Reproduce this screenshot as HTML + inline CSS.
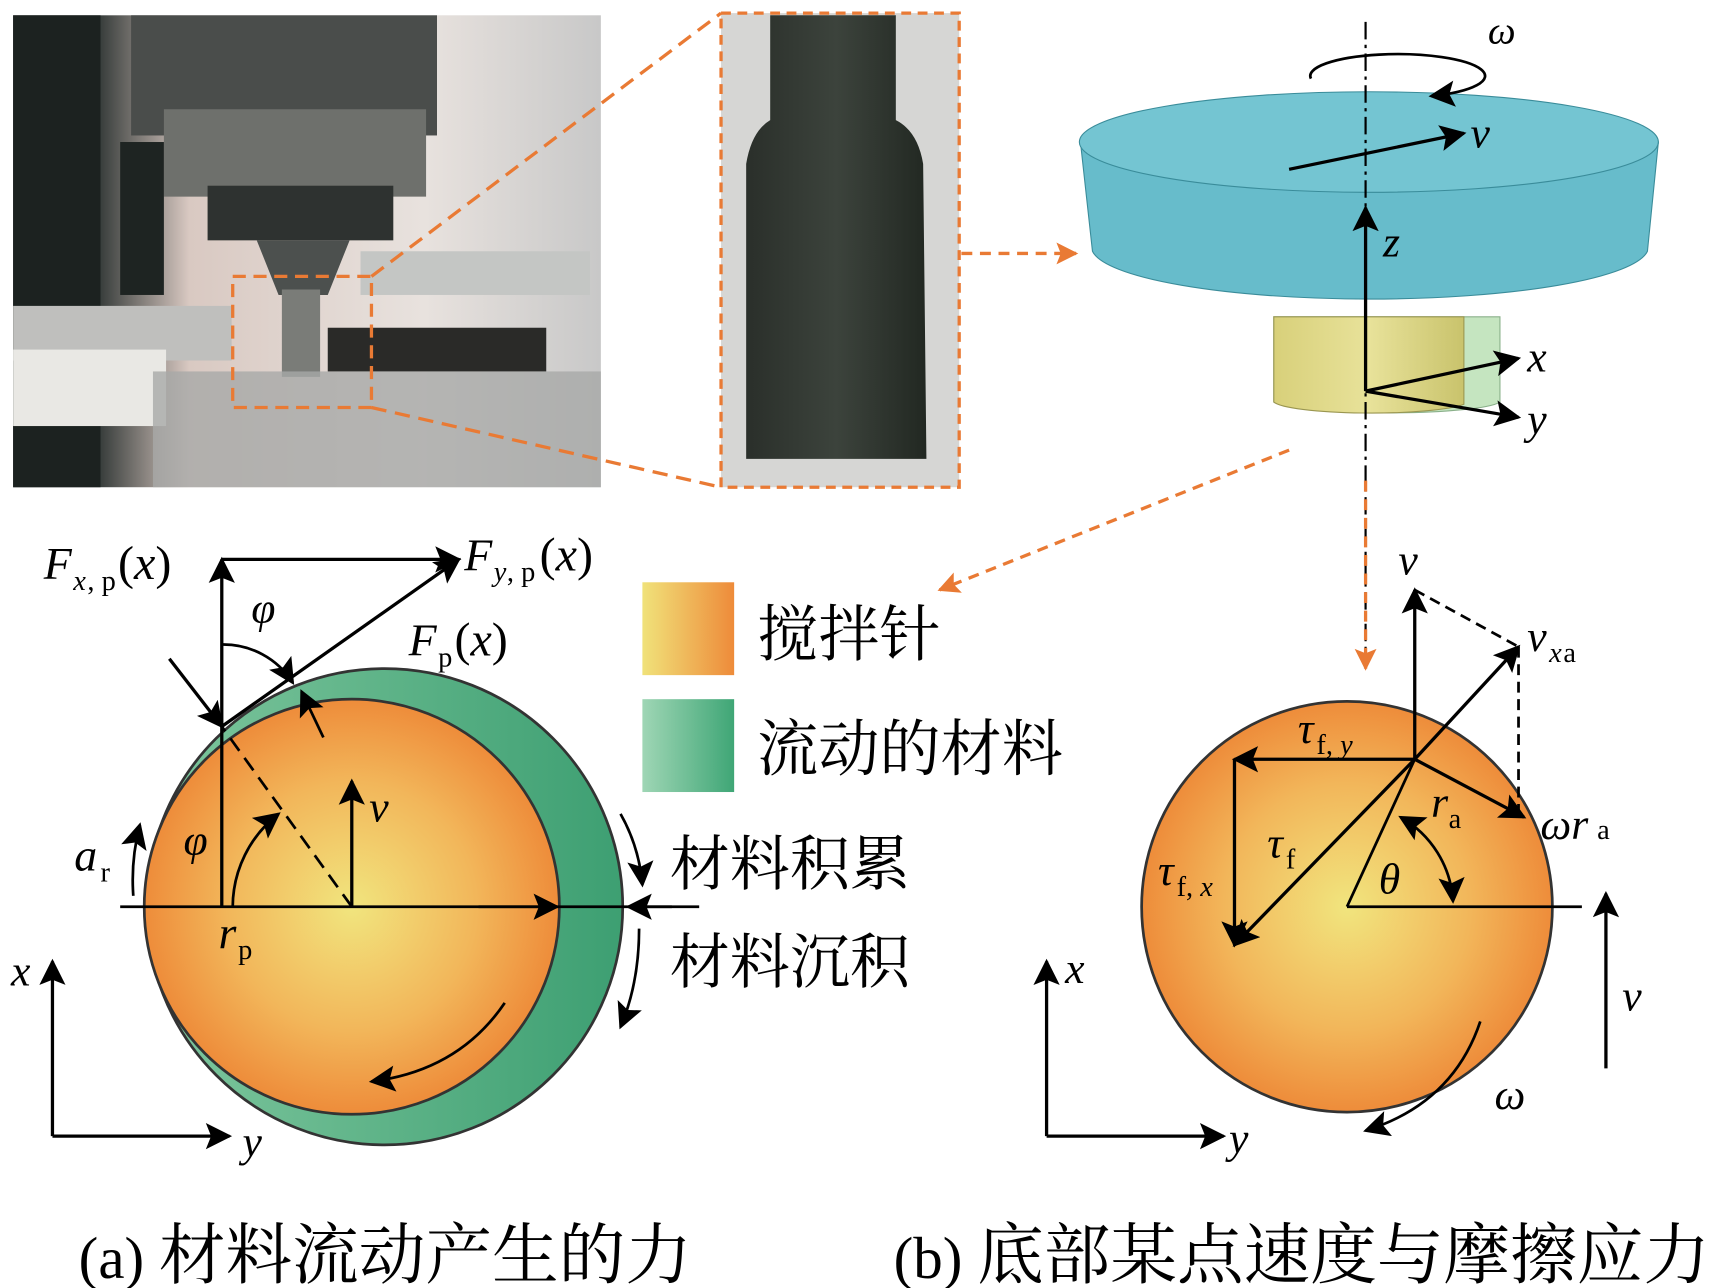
<!DOCTYPE html>
<html><head><meta charset="utf-8"><style>
html,body{margin:0;padding:0;background:#fff;}
svg{display:block;}
text{font-family:"Liberation Serif","Noto Serif CJK SC",serif;}
.it{font-style:italic;}
</style></head><body>
<svg width="1713" height="1288" viewBox="0 0 1568 1179" xmlns="http://www.w3.org/2000/svg">
<defs>
<radialGradient id="og" cx="0.5" cy="0.5" r="0.5">
<stop offset="0" stop-color="#f1e57e"/><stop offset="0.6" stop-color="#f2b65a"/><stop offset="1" stop-color="#ee8c3a"/>
</radialGradient>
<linearGradient id="lgO" x1="0" x2="1"><stop offset="0" stop-color="#f0e27a"/><stop offset="1" stop-color="#ee8b3a"/></linearGradient>
<linearGradient id="lgG" x1="0" x2="1"><stop offset="0" stop-color="#9fd6b5"/><stop offset="1" stop-color="#3fa676"/></linearGradient>
<linearGradient id="gc" x1="0" x2="1"><stop offset="0" stop-color="#7fc79e"/><stop offset="1" stop-color="#3d9f72"/></linearGradient>
<linearGradient id="pinY" x1="0" x2="1"><stop offset="0" stop-color="#d8d07a"/><stop offset="0.5" stop-color="#e8e29a"/><stop offset="1" stop-color="#c9c36c"/></linearGradient>
<linearGradient id="photo" x1="0" x2="1"><stop offset="0" stop-color="#1f2624"/><stop offset="0.15" stop-color="#3a3f3d"/><stop offset="0.3" stop-color="#d9c9c2"/><stop offset="0.7" stop-color="#e8e2de"/><stop offset="1" stop-color="#c8c8c8"/></linearGradient>
<linearGradient id="tool" x1="0" x2="1"><stop offset="0" stop-color="#2a2f2a"/><stop offset="0.5" stop-color="#3c433c"/><stop offset="1" stop-color="#222822"/></linearGradient>
<marker id="ab" viewBox="0 0 10 10" refX="9" refY="5" markerWidth="36" markerHeight="24" orient="auto-start-reverse" markerUnits="userSpaceOnUse"><path d="M0,0 L10,5 L0,10 L2,5z" fill="#000"/></marker>
<marker id="ao" viewBox="0 0 10 10" refX="9" refY="5" markerWidth="26" markerHeight="20" orient="auto" markerUnits="userSpaceOnUse"><path d="M0,0 L10,5 L0,10 L2,5z" fill="#e97a34"/></marker>
</defs>

<!-- photo -->
<rect x="12" y="14" width="538" height="432" fill="url(#photo)"/>
<rect x="12" y="14" width="80" height="432" fill="#1c2220"/>
<rect x="120" y="14" width="280" height="110" fill="#4a4d4b"/>
<rect x="150" y="100" width="240" height="80" fill="#6e706c"/>
<rect x="190" y="170" width="170" height="50" fill="#2e3230"/>
<polygon points="235,220 320,220 300,270 255,270" fill="#4c504e"/>
<rect x="258" y="265" width="35" height="80" fill="#7a7c78"/>
<rect x="110" y="130" width="40" height="140" fill="#1e2422"/>
<rect x="12" y="280" width="200" height="50" fill="#bfbfbd"/>
<rect x="12" y="320" width="140" height="70" fill="#e9e8e4"/>
<rect x="300" y="300" width="200" height="40" fill="#2a2a28"/>
<rect x="140" y="340" width="410" height="106" fill="#a8a9a8" opacity="0.8"/>
<rect x="330" y="230" width="210" height="40" fill="#c4c6c4"/>

<!-- inset -->
<rect x="660" y="12" width="218" height="434" fill="#d6d6d4"/>
<path d="M705,14 L820,14 L820,110 Q840,120 845,150 L848,420 L683,420 L683,150 Q688,120 705,110Z" fill="url(#tool)"/>
<rect x="660" y="12" width="218" height="434" fill="none" stroke="#e97a34" stroke-width="3" stroke-dasharray="9,6"/>
<rect x="213" y="253" width="127" height="120" fill="none" stroke="#e97a34" stroke-width="3" stroke-dasharray="12,7"/>
<line x1="340" y1="253" x2="660" y2="12" stroke="#e97a34" stroke-width="3" stroke-dasharray="14,8"/>
<line x1="340" y1="373" x2="660" y2="446" stroke="#e97a34" stroke-width="3" stroke-dasharray="14,8"/>
<line x1="880" y1="232" x2="985" y2="232" stroke="#e97a34" stroke-width="3" stroke-dasharray="10,7" marker-end="url(#ao)"/>

<!-- 3D tool -->
<path d="M1166,290 L1166,368 A105,12 0 0 0 1373,368 L1373,290Z" fill="#c5e5c0" stroke="#8ab08a"/>
<path d="M1166,290 L1166,368 A90,12 0 0 0 1340,370 L1340,290Z" fill="url(#pinY)" stroke="#9a9650"/>
<path d="M989,130 L1000,230 A255,48 0 0 0 1508,230 L1518,130Z" fill="#67bccb" stroke="#3a8c9a"/>
<ellipse cx="1253" cy="130" rx="265" ry="46" fill="#74c5d2" stroke="#3a8c9a"/>
<line x1="1250" y1="20" x2="1250" y2="610" stroke="#000" stroke-width="2" stroke-dasharray="16,5,3,5"/>
<path d="M1200,72 A80,20 0 1 1 1310,88" fill="none" stroke="#000" stroke-width="2.5" marker-end="url(#ab)"/>
<text x="1362" y="40" font-size="36" class="it">ω</text>
<line x1="1180" y1="155" x2="1340" y2="122" stroke="#000" stroke-width="3" marker-end="url(#ab)"/>
<text x="1346" y="135" font-size="40" class="it">v</text>
<line x1="1250" y1="358" x2="1250" y2="190" stroke="#000" stroke-width="3" marker-end="url(#ab)"/>
<text x="1266" y="235" font-size="40" class="it">z</text>
<line x1="1250" y1="358" x2="1390" y2="328" stroke="#000" stroke-width="3" marker-end="url(#ab)"/>
<text x="1398" y="340" font-size="40" class="it">x</text>
<line x1="1250" y1="358" x2="1390" y2="382" stroke="#000" stroke-width="3" marker-end="url(#ab)"/>
<text x="1398" y="397" font-size="40" class="it">y</text>
<line x1="1180" y1="412" x2="860" y2="540" stroke="#e97a34" stroke-width="3" stroke-dasharray="10,7" marker-end="url(#ao)"/>
<line x1="1250" y1="440" x2="1250" y2="612" stroke="#e97a34" stroke-width="3" stroke-dasharray="10,7" marker-end="url(#ao)"/>

<!-- left diagram -->
<circle cx="352" cy="830" r="218" fill="url(#gc)" stroke="#333" stroke-width="2.5"/>
<circle cx="322" cy="830" r="190" fill="url(#og)" stroke="#333" stroke-width="2.5"/>
<line x1="110" y1="830" x2="640" y2="830" stroke="#000" stroke-width="2.5"/>
<line x1="203" y1="830" x2="203" y2="512" stroke="#000" stroke-width="3" marker-end="url(#ab)"/>
<line x1="203" y1="512" x2="420" y2="512" stroke="#000" stroke-width="3" marker-end="url(#ab)"/>
<line x1="203" y1="665" x2="420" y2="512" stroke="#000" stroke-width="3" marker-end="url(#ab)"/>
<line x1="322" y1="830" x2="203" y2="665" stroke="#000" stroke-width="2.5" stroke-dasharray="14,8"/>
<line x1="155" y1="603" x2="203" y2="665" stroke="#000" stroke-width="3" marker-end="url(#ab)"/>
<line x1="322" y1="830" x2="322" y2="715" stroke="#000" stroke-width="3" marker-end="url(#ab)"/>
<path d="M213,830 A108,108 0 0 1 255,745" fill="none" stroke="#000" stroke-width="2.5" marker-end="url(#ab)"/>
<path d="M203,590 A75,75 0 0 1 268,625" fill="none" stroke="#000" stroke-width="2.5" marker-end="url(#ab)"/>
<line x1="296" y1="675" x2="276" y2="633" stroke="#000" stroke-width="2.5" marker-end="url(#ab)"/>
<path d="M122,820 A200,200 0 0 1 128,755" fill="none" stroke="#000" stroke-width="2.5" marker-end="url(#ab)"/>
<line x1="438" y1="830" x2="510" y2="830" stroke="#000" stroke-width="2.5" marker-end="url(#ab)"/>
<line x1="615" y1="830" x2="575" y2="830" stroke="#000" stroke-width="2.5" marker-end="url(#ab)"/>
<path d="M568,745 Q585,775 588,810" fill="none" stroke="#000" stroke-width="2.5" marker-end="url(#ab)"/>
<path d="M585,850 Q585,900 568,940" fill="none" stroke="#000" stroke-width="2.5" marker-end="url(#ab)"/>
<path d="M462,918 Q420,980 340,990" fill="none" stroke="#000" stroke-width="2.5" marker-end="url(#ab)"/>
<text x="40" y="530" font-size="42" class="it">F</text><text x="67" y="540" font-size="26" class="it">x</text><text x="80" y="540" font-size="26">, p</text><text x="108" y="530" font-size="44">(<tspan class="it">x</tspan>)</text>
<text x="425" y="522" font-size="42" class="it">F</text><text x="452" y="532" font-size="26" class="it">y</text><text x="464" y="532" font-size="26">, p</text><text x="494" y="522" font-size="44">(<tspan class="it">x</tspan>)</text>
<text x="374" y="600" font-size="42" class="it">F</text><text x="401" y="610" font-size="26">p</text><text x="416" y="600" font-size="44">(<tspan class="it">x</tspan>)</text>
<text x="230" y="570" font-size="40" class="it">φ</text>
<text x="168" y="782" font-size="40" class="it">φ</text>
<text x="338" y="752" font-size="40" class="it">v</text>
<text x="68" y="797" font-size="42" class="it">a</text><text x="92" y="807" font-size="26">r</text>
<text x="200" y="868" font-size="42" class="it">r</text><text x="218" y="878" font-size="26">p</text>
<line x1="48" y1="1040" x2="48" y2="880" stroke="#000" stroke-width="3" marker-end="url(#ab)"/>
<line x1="48" y1="1040" x2="210" y2="1040" stroke="#000" stroke-width="3" marker-end="url(#ab)"/>
<text x="10" y="902" font-size="40" class="it">x</text>
<text x="222" y="1058" font-size="40" class="it">y</text>

<rect x="588" y="533" width="84" height="85" fill="url(#lgO)"/>
<rect x="588" y="640" width="84" height="85" fill="url(#lgG)"/>
<text x="693" y="600" font-size="56" font-family="Noto Serif CJK SC">搅拌针</text>
<text x="693" y="705" font-size="56" font-family="Noto Serif CJK SC">流动的材料</text>
<text x="613" y="810" font-size="55" font-family="Noto Serif CJK SC">材料积累</text>
<text x="613" y="900" font-size="55" font-family="Noto Serif CJK SC">材料沉积</text>

<!-- right diagram -->
<circle cx="1233" cy="830" r="188" fill="url(#og)" stroke="#333" stroke-width="2.5"/>
<line x1="1233" y1="830" x2="1448" y2="830" stroke="#000" stroke-width="2.5"/>
<line x1="1295" y1="695" x2="1295" y2="540" stroke="#000" stroke-width="3" marker-end="url(#ab)"/>
<line x1="1295" y1="540" x2="1390" y2="592" stroke="#000" stroke-width="2.5" stroke-dasharray="10,6"/>
<line x1="1390" y1="592" x2="1390" y2="745" stroke="#000" stroke-width="2.5" stroke-dasharray="10,6"/>
<line x1="1295" y1="695" x2="1390" y2="592" stroke="#000" stroke-width="3" marker-end="url(#ab)"/>
<line x1="1295" y1="695" x2="1395" y2="748" stroke="#000" stroke-width="3" marker-end="url(#ab)"/>
<line x1="1295" y1="695" x2="1130" y2="695" stroke="#000" stroke-width="3" marker-end="url(#ab)"/>
<line x1="1130" y1="695" x2="1130" y2="865" stroke="#000" stroke-width="3" marker-end="url(#ab)"/>
<line x1="1295" y1="695" x2="1130" y2="865" stroke="#000" stroke-width="3" marker-end="url(#ab)"/>
<line x1="1233" y1="830" x2="1295" y2="695" stroke="#000" stroke-width="2.5"/>
<path d="M1282,748 A95,95 0 0 1 1330,825" fill="none" stroke="#000" stroke-width="2.5" marker-start="url(#ab)" marker-end="url(#ab)"/>
<text x="1280" y="526" font-size="40" class="it">v</text>
<text x="1398" y="596" font-size="40" class="it">v</text><text x="1418" y="606" font-size="26" class="it">x</text><text x="1431" y="606" font-size="26">a</text>
<text x="1188" y="680" font-size="40" class="it">τ</text><text x="1205" y="690" font-size="26">f, <tspan class="it">y</tspan></text>
<text x="1160" y="785" font-size="40" class="it">τ</text><text x="1177" y="795" font-size="26">f</text>
<text x="1060" y="810" font-size="40" class="it">τ</text><text x="1077" y="820" font-size="26">f, <tspan class="it">x</tspan></text>
<text x="1310" y="748" font-size="40" class="it">r</text><text x="1326" y="758" font-size="26">a</text>
<text x="1410" y="768" font-size="40" class="it">ωr</text><text x="1462" y="768" font-size="26">a</text>
<text x="1262" y="818" font-size="40" class="it">θ</text>
<line x1="1470" y1="978" x2="1470" y2="818" stroke="#000" stroke-width="3" marker-end="url(#ab)"/>
<text x="1485" y="925" font-size="40" class="it">v</text>
<path d="M1355,935 Q1330,1010 1250,1035" fill="none" stroke="#000" stroke-width="2.5" marker-end="url(#ab)"/>
<text x="1368" y="1015" font-size="40" class="it">ω</text>
<line x1="958" y1="1040" x2="958" y2="880" stroke="#000" stroke-width="3" marker-end="url(#ab)"/>
<line x1="958" y1="1040" x2="1120" y2="1040" stroke="#000" stroke-width="3" marker-end="url(#ab)"/>
<text x="975" y="900" font-size="40" class="it">x</text>
<text x="1125" y="1055" font-size="40" class="it">y</text>

<text x="72" y="1170" font-size="54" font-family="Liberation Serif, Noto Serif CJK SC, serif">(a) <tspan font-size="61">材料流动产生的力</tspan></text>
<text x="818" y="1170" font-size="54" font-family="Liberation Serif, Noto Serif CJK SC, serif">(b) <tspan font-size="61">底部某点速度与摩擦应力</tspan></text>
</svg>
</body></html>
